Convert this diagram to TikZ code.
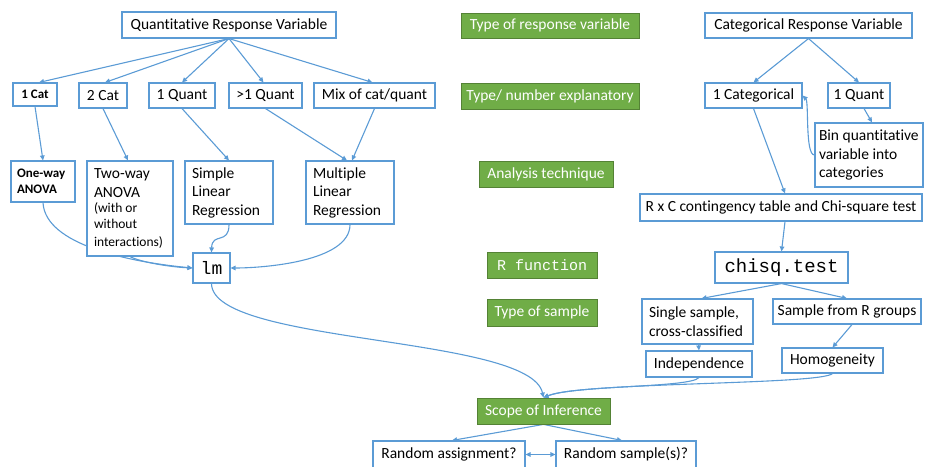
\documentclass[tikz,border=0pt]{standalone}
\usepackage{fontspec}
\setmainfont{Carlito}[Ligatures=NoCommon]
\newfontfamily\monof{Liberation Mono}
\usetikzlibrary{arrows.meta,backgrounds}
\definecolor{lblue}{RGB}{91,155,213}
\definecolor{ggreen}{RGB}{112,173,71}
\definecolor{gborder}{RGB}{84,130,53}
\newcommand\myfa{\fontsize{15.5}{18.5}\selectfont}
\newcommand\myfb{\fontsize{13}{16}\selectfont\bfseries}
\newcommand\myfc{\fontsize{13.5}{16}\selectfont}
\tikzset{
  box/.style={draw=lblue, line width=1.1pt, fill=white, inner sep=0pt, font=\myfa, text=black, align=center},
  gbox/.style={draw=gborder, line width=0.8pt, fill=ggreen, inner sep=0pt, font=\myfa, text=white, align=center},
  arr/.style={draw=lblue, line width=1.1pt, -{Triangle[length=5pt,width=4.5pt]}},
  darr/.style={draw=lblue, line width=1.1pt, {Triangle[length=5pt,width=4.5pt]}-{Triangle[length=5pt,width=4.5pt]}},
  sz/.style 2 args={minimum width=#1pt, minimum height=#2pt},
}
\begin{document}
\begin{tikzpicture}[x=1pt,y=-1pt]
\useasboundingbox (0,0) rectangle (925,466);
% top row
\node[box, sz={214}{26}] (qrv) at (229,25) {Quantitative Response Variable};
\node[gbox, sz={178}{25}] (g1) at (550,25.5) {Type of response variable};
\node[box, sz={207}{25}] (crv) at (808.5,25.5) {Categorical Response Variable};
% explanatory
\node[box, sz={44}{23}, font=\myfb] (c1) at (35,94.5) {1 Cat};
\node[box, sz={48}{25}] (c2) at (103,95.5) {2 Cat};
\node[box, sz={66}{25}] (q1) at (182,95.5) {1 Quant};
\node[box, sz={73}{25}] (qm) at (265.5,95.5) {>1 Quant};
\node[box, sz={121}{25}] (mix) at (374.5,95.5) {Mix of cat/quant};
\node[gbox, sz={178}{26}] (g2) at (550,96) {Type/ number explanatory};
\node[box, sz={97}{25}] (cat1) at (753.5,95.5) {1 Categorical};
\node[box, sz={62}{25}] (q1r) at (859,95.5) {1 Quant};
\node[box, sz={108}{64}, text width=100pt, align=flush left] (bin) at (869,155) {Bin quantitative\\variable into\\categories};
% techniques
\node[box, sz={64}{41}, text width=52pt, align=flush left, font=\myfb] (ow) at (43,181.5) {One-way\\ANOVA};
\node[box, sz={86}{95}, text width=72pt, align=flush left] (tw) at (130,208.5) {Two-way\\ANOVA\\[-1pt]{\myfc(with or\\without\\interactions)}};
\node[box, sz={88}{63}, text width=74pt, align=flush left] (slr) at (229,192.5) {Simple\\Linear\\Regression};
\node[box, sz={88}{63}, text width=74pt, align=flush left] (mlr) at (350,192.5) {Multiple\\Linear\\Regression};
\node[gbox, sz={134}{26}] (g3) at (546,174) {Analysis technique};
\node[box, sz={282}{27}] (rxc) at (781,207.5) {R x C contingency table and Chi-square test};
% R functions
\node[box, sz={37}{30}, font=\fontsize{18}{20}\selectfont\monof] (lm) at (211.5,268) {lm};
\node[gbox, sz={110}{26}, font=\fontsize{15}{17}\selectfont\monof] (g4) at (542,265) {R function};
\node[box, sz={133}{31}, font=\fontsize{19}{21}\selectfont\monof] (chi) at (781.5,267.5) {chisq.test};
% samples
\node[gbox, sz={110}{27}] (g5) at (542,312.5) {Type of sample};
\node[box, sz={111}{45}, text width=97pt, align=flush left] (ss) at (697.5,321.5) {Single sample,\\cross-classified};
\node[box, sz={148}{25}] (sr) at (847,311.5) {Sample from R groups};
\node[box, sz={106}{26}] (ind) at (699,364) {Independence};
\node[box, sz={101}{25}] (hom) at (832.5,360.5) {Homogeneity};
% scope
\node[gbox, sz={133}{26}] (g6) at (543.5,411) {Scope of Inference};
\node[box, sz={152}{27}] (ra) at (449,454.5) {Random assignment?};
\node[box, sz={140}{27}] (rs) at (626,454.5) {Random sample(s)?};

\begin{pgfonlayer}{background}
\draw[arr] (qrv.south) -- ([xshift=4pt]c1.north);
\draw[arr] (qrv.south) -- ([xshift=2pt]c2.north);
\draw[arr] (qrv.south) -- (q1.north);
\draw[arr] (qrv.south) -- ([xshift=-2pt]qm.north);
\draw[arr] (qrv.south) -- ([xshift=-2pt]mix.north);
\draw[arr] (c1.south) -- (ow.north);
\draw[arr] (c2.south) -- ([xshift=-2pt]tw.north);
\draw[arr] (q1.south) -- (slr.north);
\draw[arr] (qm.south) -- ([xshift=-3pt]mlr.north);
\draw[arr] (mix.south) -- ([xshift=2pt]mlr.north);
\draw[arr] (ow.south) .. controls (45,245) and (130,262) .. (lm.west);
\draw[arr] (tw.south) .. controls (140,262) and (170,267) .. (lm.west);
\draw[arr] (slr.south) .. controls (229,245) and (212,232) .. (lm.north);
\draw[arr] (mlr.south) .. controls (350,262) and (262,268) .. (lm.east);
\draw[arr] (lm.south) .. controls (212,345) and (530,335) .. (g6.north);
\draw[arr] (crv.south) -- (cat1.north);
\draw[arr] (crv.south) -- (q1r.north);
\draw[arr] ([xshift=5pt]q1r.south) -- ([xshift=3pt]bin.north);
\draw[arr] (bin.west) .. controls (805,155) and (809,102) .. (cat1.east);
\draw[arr] (cat1.south) -- ([xshift=4pt]rxc.north);
\draw[arr] ([xshift=4pt]rxc.south) -- (chi.north);
\draw[arr] (chi.south) -- ([xshift=4pt]ss.north);
\draw[arr] (chi.south) -- (sr.north);
\draw[arr] ([xshift=1pt]ss.south) -- (ind.north);
\draw[arr] ([xshift=5pt]sr.south) -- (hom.north);
\draw[arr] (ind.south) .. controls (690,388) and (575,385) .. (g6.north);
\draw[arr] (hom.south) .. controls (820,385) and (580,382) .. (g6.north);
\draw[arr] (g6.south) -- ([xshift=3pt]ra.north);
\draw[arr] (g6.south) -- ([xshift=-4pt]rs.north);
\draw[darr] (ra.east) -- (rs.west);
\end{pgfonlayer}
\end{tikzpicture}
\end{document}
